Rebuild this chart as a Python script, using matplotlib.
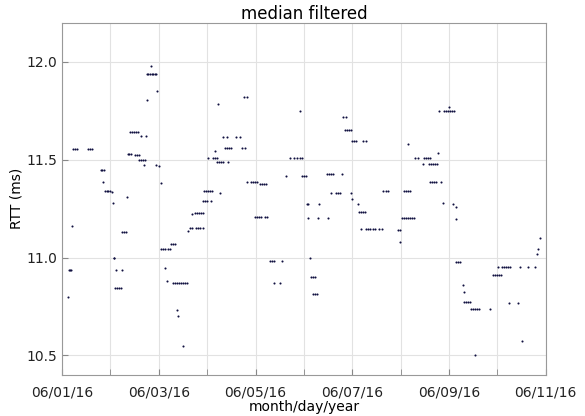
import numpy as np
import pandas as pd
import matplotlib
matplotlib.use('Agg')
import matplotlib.pyplot as plt
import matplotlib.dates as mdates

start = pd.Timestamp('2016-06-01 00:00')
end = pd.Timestamp('2016-06-11 00:00')

# hours after 06/01/16 00:00 and the median filtered RTT in ms
hours = [3.0, 3.5, 4.0, 4.5, 5.0, 5.5, 6.4, 7.4, 12.9, 13.9, 14.9,
         19.3, 19.8, 20.3, 20.8, 21.3, 22.3, 22.8, 23.8, 24.8, 25.3,
         25.6, 26.0, 26.8, 29.8, 26.3, 27.3, 28.3, 29.3, 29.8, 30.8, 31.7,
         32.2, 32.5, 33.2, 34.0, 33.7, 34.7, 35.7, 36.7, 37.7,
         36.2, 37.2, 38.2, 39.2, 41.7, 38.2, 39.2, 40.2, 41.2, 40.7,
         42.2, 44.1, 42.2, 42.9, 43.6, 44.4, 45.1, 45.9, 46.6, 47.1,
         46.6, 48.1, 49.1, 49.1, 50.1, 51.1, 51.1, 52.1, 52.6, 53.6,
         54.1, 55.1, 56.0, 55.1, 56.0, 57.0, 58.0, 59.0, 60.0, 61.0, 62.0,
         57.0, 57.5, 60.0, 62.5, 63.5, 64.5, 66.5, 67.5, 68.4, 69.9,
         64.5, 66.0, 67.0, 68.0, 68.9, 69.9, 69.9, 70.9, 71.9, 73.9,
         70.4, 71.4, 72.4, 73.4, 74.4, 72.4, 75.9, 74.9, 75.9, 76.9,
         77.4, 76.9, 77.9, 78.9, 79.9, 78.4, 79.9, 81.8,
         80.8, 81.8, 82.8, 83.8, 82.3, 86.3, 88.3, 89.3, 90.8, 90.3, 91.8,
         91.8, 93.7, 94.7, 95.7, 96.7, 95.7, 96.7, 97.7, 98.7, 100.7, 101.7,
         98.2, 99.2, 100.2, 101.2, 103.2, 104.2, 105.2, 109.1, 105.2, 108.1,
         111.1, 113.1, 115.1, 116.6, 118.0, 119.0, 118.0, 119.0, 120.0, 121.0,
         121.5, 122.0, 122.0, 127.0, 131.9, 123.0, 123.5, 124.5, 125.5,
         124.5, 125.5, 126.5, 127.5, 131.4, 132.4, 133.4, 134.4,
         133.4, 135.9, 136.9, 137.9, 138.9, 139.4, 140.9,
         140.4, 141.4, 142.3, 143.3, 143.3, 143.8, 143.8, 144.8, 145.8,
         146.8, 147.3, 148.3, 149.3, 150.3, 149.3, 150.8,
         148.3, 150.8, 151.8, 152.8, 154.3, 155.2, 157.2, 158.7,
         159.2, 160.7, 161.7, 166.7, 167.6, 167.6,
         168.6, 169.6, 170.6, 171.6, 172.6, 173.6, 174.6,
         169.6, 170.6, 171.6, 172.6, 171.6, 175.1, 176.6, 179.1,
         179.6, 180.5, 181.5, 182.5, 182.0, 183.0, 184.0, 185.0, 186.0,
         182.5, 183.5, 184.5, 185.5, 186.5, 188.0, 187.0,
         189.5, 190.5, 191.5, 192.4, 193.4, 194.4, 192.0,
         189.0, 193.9, 195.4, 195.4, 195.4, 196.4, 197.4, 198.9, 199.4,
         199.4, 200.4, 201.4, 202.4, 202.9, 203.9, 204.8, 205.8, 206.8,
         212.3, 204.8, 213.8, 214.8, 215.8, 216.7, 217.7, 216.3,
         218.2, 219.2, 220.2, 221.2, 222.2, 227.2, 231.1, 234.6,
         221.7, 226.2, 228.2, 235.6, 236.1, 237.1]
rtt_ms = [10.80, 10.935, 10.935, 10.935, 11.16, 11.555, 11.555, 11.555, 11.555, 11.555, 11.555,
          11.445, 11.445, 11.385, 11.445, 11.34, 11.34, 11.34, 11.34, 11.335, 11.28,
          11.00, 11.00, 10.935, 10.935, 10.845, 10.845, 10.845, 10.845, 11.13, 11.13, 11.13,
          11.31, 11.53, 11.53, 11.53, 11.64, 11.64, 11.64, 11.64, 11.64,
          11.525, 11.525, 11.525, 11.62, 11.62, 11.50, 11.50, 11.50, 11.50, 11.475,
          11.805, 11.98, 11.94, 11.94, 11.94, 11.94, 11.94, 11.94, 11.94, 11.85,
          11.475, 11.47, 11.38, 11.046, 11.046, 11.046, 10.945, 10.88, 11.046, 11.046,
          11.067, 11.067, 11.067, 10.87, 10.87, 10.87, 10.87, 10.87, 10.87, 10.87, 10.87,
          10.73, 10.70, 10.545, 11.135, 11.15, 11.15, 11.15, 11.15, 11.15, 11.15,
          11.225, 11.23, 11.23, 11.23, 11.23, 11.23, 11.29, 11.29, 11.29, 11.29,
          11.34, 11.34, 11.34, 11.34, 11.34, 11.51, 11.545, 11.51, 11.51, 11.51,
          11.785, 11.49, 11.49, 11.49, 11.49, 11.33, 11.615, 11.615,
          11.56, 11.56, 11.56, 11.56, 11.49, 11.615, 11.615, 11.56, 11.56, 11.82, 11.82,
          11.385, 11.385, 11.385, 11.385, 11.385, 11.205, 11.205, 11.205, 11.205, 11.205, 11.205,
          11.375, 11.375, 11.375, 11.375, 10.98, 10.98, 10.98, 10.98, 10.87, 10.87,
          11.415, 11.51, 11.51, 11.51, 11.51, 11.51, 11.75, 11.415, 11.415, 11.415,
          11.275, 11.275, 11.20, 11.20, 11.20, 10.995, 10.90, 10.90, 10.90,
          10.815, 10.815, 10.815, 11.275, 11.425, 11.425, 11.425, 11.425,
          11.33, 11.33, 11.33, 11.33, 11.425, 11.72, 11.72,
          11.65, 11.65, 11.65, 11.65, 11.33, 11.30, 11.595, 11.595, 11.595,
          11.275, 11.235, 11.235, 11.235, 11.235, 11.595, 11.595,
          11.145, 11.145, 11.145, 11.145, 11.145, 11.145, 11.145, 11.145,
          11.34, 11.34, 11.34, 11.14, 11.14, 11.08,
          11.20, 11.20, 11.20, 11.20, 11.20, 11.20, 11.20,
          11.34, 11.34, 11.34, 11.34, 11.58, 11.51, 11.51, 11.48,
          11.51, 11.51, 11.51, 11.51, 11.48, 11.48, 11.48, 11.48, 11.48,
          11.385, 11.385, 11.385, 11.385, 11.535, 11.385, 11.75,
          11.75, 11.75, 11.75, 11.75, 11.75, 11.75, 11.77,
          11.28, 11.275, 11.26, 11.195, 10.975, 10.975, 10.975, 10.86, 10.825,
          10.77, 10.77, 10.77, 10.77, 10.735, 10.735, 10.735, 10.735, 10.735,
          10.735, 10.50, 10.91, 10.91, 10.91, 10.91, 10.91, 10.95,
          10.95, 10.95, 10.95, 10.95, 10.95, 10.95, 10.95, 10.95,
          10.765, 10.765, 10.575, 11.02, 11.046, 11.10]

times = start + pd.to_timedelta(hours, unit='h')

fig = plt.figure(figsize=(5.85, 4.16), dpi=100)
ax = fig.add_axes([0.106, 0.099, 0.827, 0.846])

ax.plot(times, rtt_ms, linestyle='none', marker='.', markersize=3,
        color='#101040', markeredgewidth=0)

ax.set_xlim(start, end)
ax.set_ylim(10.4, 12.2)
ax.set_yticks([10.5, 11.0, 11.5, 12.0])
ax.yaxis.set_major_formatter(plt.FormatStrFormatter('%.1f'))

ax.xaxis.set_major_locator(mdates.DayLocator(interval=2))
ax.xaxis.set_minor_locator(mdates.DayLocator())
ax.xaxis.set_major_formatter(mdates.DateFormatter('%m/%d/%y'))

ax.grid(True, which='both', color='#e2e2e2', linewidth=0.8)
ax.set_axisbelow(True)
ax.tick_params(which='both', direction='in', length=4, color='#888888',
               labelsize=10, labelcolor='#222222', top=False, right=False)
ax.tick_params(axis='x', pad=8)
for s in ax.spines.values():
    s.set_color('#999999')

ax.set_title('median filtered', fontsize=12, pad=2)
ax.set_xlabel('month/day/year', fontsize=10, labelpad=0)
ax.set_ylabel('RTT (ms)', fontsize=10, labelpad=2)

fig.savefig('out.png', dpi=100)
